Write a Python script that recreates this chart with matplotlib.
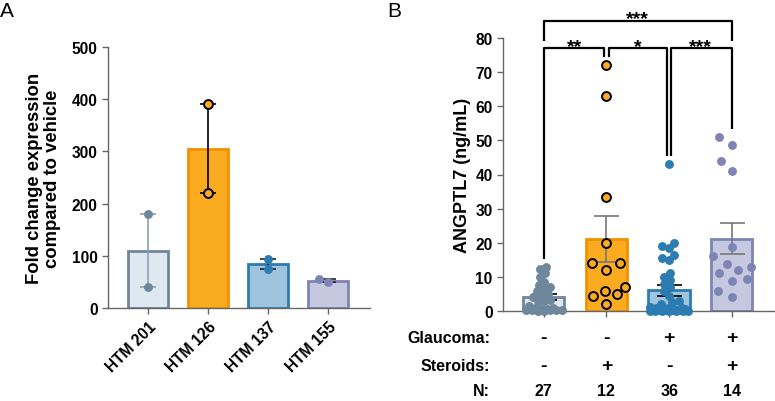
import numpy as np
import matplotlib.pyplot as plt
from matplotlib import transforms

plt.rcParams['font.family'] = ['Liberation Sans', 'DejaVu Sans']
plt.rcParams['font.weight'] = 'bold'

# ---- panel A data
cell_lines = ["HTM 201", "HTM 126", "HTM 137", "HTM 155"]
fold_change = [[180, 40], [390, 220], [93, 75], [50, 55]]

# ---- panel B data (ANGPTL7, ng/mL)
no_glc_no_ster = [13, 12.2, 11, 10, 8.5, 7.5, 7, 6.5, 5.8, 5, 4.5, 4, 3.2, 3, 2.8,
                  1.5, 1, 0.8, 0.6, 0.5, 0.4, 0.3, 0.3, 0.2, 0.2, 0.1, 0.1]
no_glc_ster = [72, 63, 33.5, 20, 14, 14, 12, 7, 6, 5, 4.5, 2]
glc_no_ster = [43, 20, 19, 18.5, 16.5, 15.5, 15, 11, 10, 9, 8, 7, 6, 4.5, 3, 2.5, 2,
               1.2, 1, 0.9, 0.8, 0.6, 0.5, 0.5, 0.4, 0.3, 0.3, 0.2, 0.2, 0.1, 0.1,
               0.1, 0, 0, 0, 0]
glc_ster = [51, 48.5, 44, 41, 18.8, 16, 13, 13.9, 12, 11, 9.5, 8.8, 5.8, 4.1]
groups_b = [no_glc_no_ster, no_glc_ster, glc_no_ster, glc_ster]
glaucoma = ["-", "-", "+", "+"]
steroids = ["-", "+", "-", "+"]
# comparisons: (group i, group j, label)
comparisons = [(0, 1, "**"), (1, 2, "*"), (2, 3, "***")]
top_comparison = (0, 3, "***")

# ---- styles
fills = ["#dde8f0", "#fbab1f", "#9ec4de", "#c6c8df"]
edges = ["#6f879c", "#f29100", "#2c7cb1", "#7f84b6"]
dots = ["#6f879c", "#fbab1f", "#2c7cb1", "#7f84b6"]
dot_edges = ["none", "black", "none", "none"]
err_a = ["#8fa0b0", "black", "#222222", "#222222"]
err_b = ["black", "#777777", "black", "#777777"]
spread_b = [6, 15, 6.5, 15]   # swarm spacing (px) per group
spine_c = "#666666"


def swarm(ax, xc, vals, dist, half):
    vals = np.asarray(vals, float)
    pix = ax.transData.transform(np.column_stack([np.full(len(vals), xc), vals]))
    cands = np.arange(-half, half + 0.01, 1.0)
    cands = cands[np.argsort(np.abs(cands), kind='stable')]
    off = np.zeros(len(vals))
    placed = []
    for i in np.argsort(vals, kind='stable'):
        y = pix[i, 1]
        best, best_d = 0.0, -1.0
        for c in cands:
            d = min((np.hypot(c - px, y - py) for px, py in placed), default=np.inf)
            if d >= dist:
                best = c
                break
            if d > best_d:
                best, best_d = c, d
        placed.append((best, y))
        off[i] = best
    x0 = ax.transData.transform((xc, 0))[0]
    back = ax.transData.inverted().transform(np.column_stack([x0 + off, pix[:, 1]]))
    return back[:, 0]


def style_axis(ax):
    for s in ["top", "right"]:
        ax.spines[s].set_visible(False)
    for s in ["left", "bottom"]:
        ax.spines[s].set_color(spine_c)
        ax.spines[s].set_linewidth(1)
    ax.tick_params(colors=spine_c, length=4, width=1, labelcolor="black", labelsize=11.2)
    for lab in ax.get_yticklabels():
        lab.set_fontweight("bold")


fig = plt.figure(figsize=(7.75, 4.02), dpi=100)

# ================= panel A
axA = fig.add_axes([108 / 775, 1 - 309 / 402, 262 / 775, 261 / 402])
xa = np.arange(len(cell_lines))
axA.set_xlim(-0.667, 3.7)
axA.set_ylim(0, 500)
axA.set_yticks(np.arange(0, 501, 100))
means_a = [np.mean(v) for v in fold_change]
axA.bar(xa, means_a, width=0.66, color=fills, edgecolor=edges, linewidth=2, zorder=1)
for i, v in enumerate(fold_change):
    lo, hi = min(v), max(v)
    axA.errorbar(xa[i], means_a[i], yerr=[[means_a[i] - lo], [hi - means_a[i]]],
                 fmt="none", ecolor=err_a[i], elinewidth=1.2, capsize=5.8, capthick=1.2, zorder=2)
    xs = swarm(axA, xa[i], v, 9, 14)
    axA.plot(xs, v, "o", ms=6.4, mfc=dots[i], mec=dot_edges[i], mew=1.4, zorder=3, clip_on=False)
axA.set_xticks(xa)
axA.set_xticklabels(cell_lines, rotation=45, ha="right", rotation_mode="anchor",
                    fontsize=11, fontweight="bold")
axA.set_ylabel("Fold change expression\ncompared to vehicle", fontsize=13.3,
               fontweight="bold", labelpad=8, linespacing=1.08)
style_axis(axA)
fig.text(0.0, 0.995, "A", fontsize=15, fontweight="normal", va="top", ha="left")

# ================= panel B
axB = fig.add_axes([503 / 775, 1 - 312 / 402, 272 / 775, 273 / 402])
xb = np.arange(len(groups_b))
axB.set_xlim(-0.65, 3.69)
axB.set_ylim(0, 80)
axB.set_yticks(np.arange(0, 81, 10))
means_b = [np.mean(v) for v in groups_b]
sems_b = [np.std(v, ddof=1) / np.sqrt(len(v)) for v in groups_b]
axB.bar(xb, means_b, width=0.66, color=fills, edgecolor=edges, linewidth=2, zorder=1)
for i, v in enumerate(groups_b):
    axB.errorbar(xb[i], means_b[i], yerr=sems_b[i], fmt="none", ecolor=err_b[i],
                 elinewidth=1.2, capsize=9, capthick=1.2, zorder=2)
    xs = swarm(axB, xb[i], v, spread_b[i], 19)
    axB.plot(xs, v, "o", ms=6.4, mfc=dots[i], mec=dot_edges[i], mew=1.4, zorder=3, clip_on=False)
axB.set_xticks(xb)
axB.set_xticklabels([])
axB.set_ylabel("ANGPTL7 (ng/mL)", fontsize=13, fontweight="bold", labelpad=3)
style_axis(axB)

# significance brackets
bk = dict(color="black", lw=1.6, clip_on=False, solid_capstyle="butt")
low_y, top_y, gap = 77, 85, 0.035
for i, j, lab in comparisons:
    left = xb[i] + (gap if i > 0 else 0)
    right = xb[j] - (gap if j < 3 else 0)
    axB.plot([left, left, right, right],
             [max(groups_b[i]) + 2.3, low_y, low_y, max(groups_b[j]) + 2.3], **bk)
    axB.text((xb[i] + xb[j]) / 2, low_y - 0.9, lab, ha="center", va="baseline",
             fontsize=14, fontweight="bold", clip_on=False)
i, j, lab = top_comparison
axB.plot([xb[i], xb[i], xb[j], xb[j]], [low_y + 2.2, top_y, top_y, low_y + 2.2], **bk)
axB.text((xb[i] + xb[j]) / 2, top_y - 0.7, lab, ha="center", va="baseline",
         fontsize=14, fontweight="bold", clip_on=False)

# condition table below
tr = transforms.blended_transform_factory(axB.transData, axB.transAxes)
rows = [("Glaucoma:", glaucoma, -0.097), ("Steroids:", steroids, -0.198),
        ("N:", [str(len(g)) for g in groups_b], -0.292)]
for name, items, yy in rows:
    axB.text(-0.048, yy, name, transform=axB.transAxes, ha="right", va="center",
             fontsize=11.5, fontweight="bold")
    for k, s in enumerate(items):
        sz = 14 if s in "+-" else 11.5
        axB.text(xb[k], yy, s, transform=tr, ha="center", va="center",
                 fontsize=sz, fontweight="bold")
fig.text(387 / 775, 0.995, "B", fontsize=15, fontweight="normal", va="top", ha="left")

fig.savefig("out.png", dpi=100)
